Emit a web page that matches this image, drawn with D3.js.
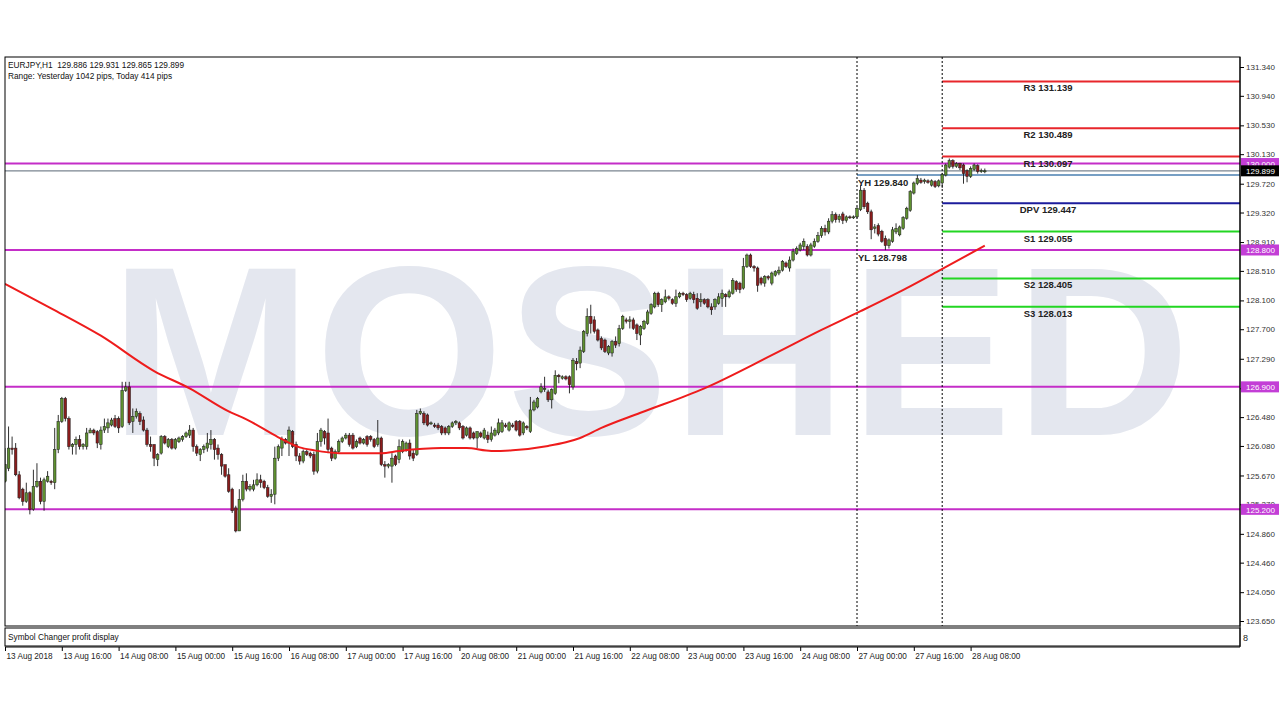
<!DOCTYPE html>
<html><head><meta charset="utf-8">
<script src="https://cdn.jsdelivr.net/npm/d3@7"></script>
<style>body{margin:0;background:#fff}svg{display:block}text{font-family:"Liberation Sans",Arial,sans-serif}</style>
</head><body><svg id="c" width="1280" height="720"></svg>
<script>
// ---- data (EURJPY H1, bar 0 = 13 Aug 2018 00:00) ----
const opens=[125.59,125.77,126.05,126.05,125.68,125.48,125.31,125.43,125.20,125.52,125.59,125.31,125.59,125.59,125.57,126.03,126.42,126.74,126.46,126.07,126.10,126.17,126.07,126.07,126.26,126.30,126.28,126.10,126.30,126.33,126.37,126.46,126.46,126.35,126.85,126.90,126.42,126.49,126.53,126.44,126.30,126.10,126.10,125.89,125.98,126.21,126.07,126.17,126.05,126.14,126.17,126.21,126.23,126.30,126.07,125.96,126.03,126.05,126.10,126.17,126.05,125.96,125.82,125.68,125.48,125.22,124.90,125.34,125.59,125.48,125.48,125.54,125.61,125.59,125.50,125.38,125.41,125.91,126.05,126.17,126.12,126.28,126.10,
125.94,125.87,126.00,125.98,125.96,125.73,126.14,126.28,126.26,126.05,125.91,126.00,126.14,126.19,126.23,126.23,126.07,126.19,126.12,126.21,126.21,126.17,126.10,126.19,125.82,125.80,125.80,125.94,125.89,126.00,126.03,126.12,125.98,125.96,126.53,126.53,126.51,126.40,126.37,126.37,126.35,126.33,126.26,126.35,126.40,126.40,126.35,126.23,126.33,126.26,126.19,126.26,126.19,126.23,126.17,126.23,126.26,126.28,126.37,126.30,126.37,126.42,126.42,126.26,126.35,126.28,126.58,126.62,
126.83,126.86,126.83,126.72,126.81,127.06,127.02,127.04,127.04,126.90,127.25,127.23,127.39,127.64,127.88,127.83,127.69,127.57,127.55,127.37,127.37,127.53,127.50,127.71,127.83,127.81,127.83,127.76,127.62,127.71,127.78,127.92,128.01,128.20,128.04,128.08,128.15,128.11,128.06,128.15,128.20,128.18,128.13,128.18,128.13,128.08,128.11,128.11,128.01,128.01,128.06,128.13,128.18,128.15,128.20,128.36,128.34,128.27,128.57,128.73,128.57,128.55,128.41,128.34,128.43,128.34,128.45,128.48,128.52,128.62,128.55,128.66,128.75,128.80,128.85,128.85,128.73,128.85,128.92,
129.00,129.10,129.05,129.20,129.29,129.22,129.30,129.21,129.26,129.25,129.26,129.36,129.63,129.45,129.33,129.10,129.14,129.06,128.96,128.86,128.92,129.05,129.01,129.10,129.24,129.35,129.59,129.72,129.77,129.75,129.76,129.70,129.75,129.69,129.73,129.84,129.95,130.04,129.96,130.00,129.98,129.90,129.82,129.92,129.97,129.89,129.886];
const highs=[126.05,126.35,126.21,126.12,125.73,125.50,125.57,125.45,125.75,125.84,125.64,125.64,125.73,125.61,126.33,126.51,126.76,126.76,126.49,126.12,126.21,126.23,126.12,126.33,126.33,126.32,126.30,126.35,126.46,126.46,126.47,126.51,126.49,126.97,126.97,126.97,126.60,126.60,126.56,126.49,126.33,126.21,126.10,125.98,126.23,126.23,126.19,126.19,126.19,126.21,126.23,126.28,126.37,126.33,126.10,126.05,126.10,126.26,126.30,126.19,126.10,125.98,125.82,125.77,125.50,125.25,125.48,125.68,125.70,125.55,125.61,125.70,125.68,125.61,125.54,125.48,126.07,126.10,126.21,126.19,126.35,126.30,126.14,
125.98,126.03,126.03,126.00,126.00,126.26,126.33,126.30,126.46,126.07,126.03,126.17,126.21,126.26,126.26,126.26,126.17,126.21,126.19,126.23,126.23,126.19,126.44,126.21,125.87,125.84,125.98,125.96,126.17,126.17,126.14,126.17,126.03,126.58,126.60,126.56,126.53,126.42,126.40,126.40,126.37,126.35,126.37,126.42,126.44,126.42,126.37,126.35,126.35,126.28,126.28,126.28,126.33,126.28,126.35,126.33,126.46,126.44,126.40,126.42,126.40,126.44,126.44,126.42,126.37,126.76,126.72,126.76,
126.95,127.04,126.86,126.88,127.13,127.08,127.06,127.06,127.06,127.30,127.30,127.46,127.69,127.99,128.04,127.88,127.71,127.60,127.57,127.48,127.55,127.60,127.76,127.90,127.86,127.88,127.86,127.78,127.76,127.83,127.97,128.06,128.22,128.22,128.13,128.25,128.17,128.13,128.25,128.22,128.22,128.20,128.22,128.22,128.20,128.20,128.13,128.13,128.06,128.13,128.20,128.25,128.20,128.25,128.41,128.38,128.36,128.69,128.75,128.75,128.59,128.57,128.43,128.45,128.45,128.50,128.52,128.57,128.66,128.64,128.71,128.82,128.85,128.90,128.96,128.88,128.90,128.96,129.05,
129.13,129.15,129.24,129.34,129.32,129.30,129.33,129.28,129.28,129.28,129.40,129.70,129.66,129.47,129.36,129.16,129.17,129.08,129.00,128.96,129.12,129.17,129.14,129.27,129.40,129.63,129.75,129.84,129.80,129.79,129.78,129.78,129.77,129.78,129.87,130.00,130.07,130.06,130.02,130.01,130.00,129.92,129.96,130.00,129.99,129.93,129.931];
const lows=[125.57,125.73,125.96,125.66,125.34,125.25,125.29,125.13,125.18,125.50,125.27,125.18,125.57,125.54,125.48,125.98,126.40,126.42,126.03,125.96,125.96,126.03,126.03,126.03,126.26,126.23,126.05,126.03,126.26,126.26,126.35,126.33,126.26,126.33,126.83,126.37,126.26,126.46,126.37,126.28,126.07,126.00,125.80,125.80,125.96,126.10,126.05,126.03,126.03,126.12,126.14,126.19,126.19,126.00,125.94,125.87,125.98,126.00,126.03,125.89,125.89,125.68,125.64,125.43,125.15,124.88,124.90,125.31,125.45,125.45,125.45,125.52,125.50,125.48,125.36,125.29,125.27,125.87,125.94,126.10,125.94,126.05,125.87,
125.82,125.84,125.94,125.91,125.68,125.70,126.07,126.10,125.98,125.87,125.89,125.98,126.12,126.17,126.07,126.03,126.05,126.10,126.10,126.07,126.14,126.05,126.07,125.80,125.64,125.77,125.57,125.80,125.84,125.98,126.00,125.89,125.87,125.94,126.51,126.37,126.35,126.37,126.33,126.30,126.23,126.23,126.23,126.33,126.37,126.30,126.17,126.21,126.17,126.17,126.05,126.19,126.17,126.12,126.14,126.21,126.23,126.26,126.33,126.28,126.33,126.28,126.21,126.23,126.30,126.26,126.56,126.60,
126.81,126.83,126.69,126.60,126.79,126.95,127.00,126.99,126.81,126.86,127.13,127.16,127.37,127.60,127.64,127.64,127.53,127.41,127.37,127.34,127.32,127.44,127.46,127.69,127.78,127.71,127.69,127.55,127.48,127.69,127.76,127.90,127.99,128.01,127.94,128.06,128.10,128.04,128.01,128.13,128.16,128.08,128.11,128.06,127.97,128.01,128.04,127.99,127.90,127.97,128.04,128.01,128.01,128.13,128.18,128.22,128.20,128.25,128.55,128.55,128.50,128.22,128.31,128.29,128.38,128.31,128.43,128.45,128.50,128.55,128.50,128.64,128.73,128.78,128.80,128.71,128.71,128.83,128.90,
128.97,129.00,129.02,129.17,129.18,129.18,129.16,129.18,129.23,129.23,129.24,129.34,129.37,129.30,128.95,129.03,128.99,128.90,128.798,128.82,128.90,129.02,128.99,129.08,129.22,129.33,129.57,129.70,129.72,129.72,129.72,129.68,129.66,129.67,129.66,129.82,129.93,129.93,129.94,129.91,129.72,129.74,129.80,129.90,129.86,129.87,129.865];
const closes=[125.82,126.05,126.03,125.68,125.36,125.31,125.43,125.20,125.52,125.59,125.31,125.61,125.66,125.57,126.03,126.42,126.74,126.46,126.07,126.10,126.17,126.07,126.10,126.26,126.30,126.26,126.12,126.30,126.35,126.40,126.44,126.35,126.33,126.85,126.90,126.40,126.49,126.56,126.42,126.30,126.10,126.07,125.91,125.96,126.21,126.12,126.17,126.05,126.17,126.19,126.21,126.26,126.30,126.07,125.98,126.03,126.07,126.12,126.17,126.03,125.96,125.80,125.66,125.45,125.18,124.90,125.34,125.59,125.48,125.52,125.54,125.61,125.57,125.50,125.38,125.41,125.91,126.07,126.17,126.12,126.30,126.07,125.94,
125.87,126.00,125.96,125.94,125.73,126.14,126.30,126.19,126.03,125.91,126.00,126.14,126.19,126.23,126.10,126.05,126.14,126.12,126.17,126.10,126.17,126.07,126.19,125.82,125.80,125.82,125.91,125.82,126.07,126.14,126.12,125.94,125.91,126.53,126.56,126.40,126.37,126.40,126.35,126.33,126.26,126.26,126.35,126.40,126.42,126.33,126.19,126.33,126.19,126.19,126.28,126.21,126.30,126.17,126.26,126.30,126.40,126.40,126.35,126.40,126.35,126.30,126.23,126.40,126.33,126.58,126.69,126.74,
126.90,126.88,126.72,126.86,127.06,127.04,127.04,127.01,126.93,127.27,127.22,127.41,127.67,127.88,127.78,127.67,127.55,127.44,127.39,127.46,127.53,127.48,127.71,127.88,127.81,127.83,127.71,127.64,127.74,127.81,127.94,128.04,128.20,128.04,128.11,128.15,128.13,128.06,128.15,128.20,128.18,128.11,128.20,128.11,127.99,128.11,128.06,128.01,127.97,128.11,128.15,128.20,128.15,128.22,128.38,128.25,128.25,128.57,128.73,128.57,128.55,128.31,128.34,128.43,128.41,128.48,128.50,128.52,128.64,128.57,128.66,128.78,128.82,128.87,128.92,128.73,128.87,128.92,129.00,
129.10,129.05,129.20,129.29,129.22,129.27,129.21,129.26,129.25,129.26,129.38,129.63,129.40,129.33,129.08,129.12,129.02,128.92,128.86,128.94,129.08,129.10,129.12,129.25,129.38,129.61,129.73,129.79,129.74,129.77,129.74,129.76,129.68,129.76,129.85,129.98,130.04,129.96,130.00,129.94,129.86,129.82,129.93,129.98,129.89,129.90,129.899];
// moving average, read at selected bars
const maBars=[0,13,27,42,52,63,68,77,83,87,94,106,111,123,130,137,143,153,158,162,168,179,197,216,230,241,254,263,276];
const maVals=[128.33,127.99,127.61,127.12,126.88,126.56,126.45,126.20,126.06,126.02,125.98,125.98,126.01,126.05,126.05,126.01,126.02,126.08,126.13,126.19,126.33,126.54,126.88,127.34,127.69,127.95,128.27,128.51,128.86];
// axis labels
const priceTicks=["131.340","130.940","130.530","130.130","129.720","129.320","128.910","128.510","128.100","127.700","127.290","126.880","126.480","126.080","125.670","125.270","124.860","124.460","124.050","123.650"];
const timeLabels=["13 Aug 2018","13 Aug 16:00","14 Aug 08:00","15 Aug 00:00","15 Aug 16:00","16 Aug 08:00","17 Aug 00:00","17 Aug 16:00","20 Aug 08:00","21 Aug 00:00","21 Aug 16:00","22 Aug 08:00","23 Aug 00:00","23 Aug 16:00","24 Aug 08:00","27 Aug 00:00","27 Aug 16:00","28 Aug 08:00"];
const timeBars=[0,16,32,48,64,80,96,112,128,144,160,176,192,208,224,240,256,272];
// horizontal levels
const levelVals=[130.000,128.800,126.900,125.200];
const pivotNames=["R3","R2","R1","DPV","S1","S2","S3"];
const pivotVals=[131.139,130.489,130.097,129.447,129.055,128.405,128.013];
const pivotColors=["#e8262b","#e8262b","#e8262b","#1c1c9c","#22d622","#22d622","#22d622"];
const dayLineBars=[240,264];
const yHigh=129.840, yLow=128.798, bid=129.899;

// ---- drawing ----
const svg=d3.select('#c');
const L=5,R=1240,T=57,B=626;
const n=closes.length;
const x=d3.scaleLinear().domain([0,276]).range([5,5+3.55*276]);
const y=d3.scaleLinear().domain([123.65,131.34]).range([621,67]);
svg.append('rect').attr('width',1280).attr('height',720).attr('fill','#fff');
svg.append('defs').append('clipPath').attr('id','pc').append('rect').attr('x',L).attr('y',T).attr('width',R-L).attr('height',B-T);

// watermark
svg.append('text').attr('x',110).attr('y',435).attr('font-size',242).attr('font-weight','bold')
  .attr('fill','#e4e7ef').attr('textLength',1080).attr('lengthAdjust','spacing').text('MOSHED');

const g=svg.append('g').attr('clip-path','url(#pc)');
g.append('line').attr('x1',x(240)).attr('x2',R).attr('y1',y(yLow)).attr('y2',y(yLow)).attr('stroke','#4a7fb0').attr('stroke-width',1.5);
g.append('line').attr('x1',x(240)).attr('x2',R).attr('y1',y(yHigh)).attr('y2',y(yHigh)).attr('stroke','#4a7fb0').attr('stroke-width',1.5);
g.append('line').attr('x1',L).attr('x2',R).attr('y1',y(bid)).attr('y2',y(bid)).attr('stroke','#7a8590').attr('stroke-width',1.2);
g.selectAll('.lv').data(levelVals).enter().append('line')
  .attr('x1',L).attr('x2',R).attr('y1',d=>y(d)).attr('y2',d=>y(d)).attr('stroke','#c42ec8').attr('stroke-width',2);
g.selectAll('.pv').data(pivotVals).enter().append('line')
  .attr('x1',x(264)).attr('x2',R).attr('y1',d=>y(d)).attr('y2',d=>y(d))
  .attr('stroke',(d,i)=>pivotColors[i]).attr('stroke-width',2);
g.selectAll('.dl').data(dayLineBars).enter().append('line')
  .attr('x1',d=>x(d)).attr('x2',d=>x(d)).attr('y1',T).attr('y2',B)
  .attr('stroke','#000').attr('stroke-width',1).attr('stroke-dasharray','2,2');

// candles
const idx=d3.range(n);
const cg=g.append('g');
cg.selectAll('.wk').data(idx).enter().append('line')
  .attr('x1',i=>x(i)).attr('x2',i=>x(i)).attr('y1',i=>y(highs[i])).attr('y2',i=>y(lows[i]))
  .attr('stroke','#1a1a1a').attr('stroke-width',0.9);
cg.selectAll('.bd').data(idx).enter().append('rect')
  .attr('x',i=>x(i)-1.3).attr('width',2.6)
  .attr('y',i=>y(Math.max(opens[i],closes[i])))
  .attr('height',i=>Math.max(1,Math.abs(y(opens[i])-y(closes[i]))))
  .attr('fill',i=>closes[i]>=opens[i]?'#5f9130':'#8c1c1c')
  .attr('stroke','#1a1a1a').attr('stroke-width',0.5);

// moving average
const line=d3.line().x(i=>x(maBars[i])).y(i=>y(maVals[i])).curve(d3.curveMonotoneX);
g.append('path').attr('d',line(d3.range(maBars.length))).attr('fill','none').attr('stroke','#ee1c1c').attr('stroke-width',2);

// labels on chart
svg.selectAll('.pl').data(pivotVals).enter().append('text')
  .attr('x',1048).attr('y',d=>y(d)+10).attr('text-anchor','middle').attr('font-size',9.5).attr('font-weight','bold').attr('fill','#222')
  .text((d,i)=>pivotNames[i]+' '+d.toFixed(3));
svg.append('text').attr('x',x(240)+1).attr('y',y(yHigh)+11).attr('font-size',9.5).attr('font-weight','bold').attr('fill','#222').text('YH '+yHigh.toFixed(3));
svg.append('text').attr('x',x(240)+1).attr('y',y(yLow)+11).attr('font-size',9.5).attr('font-weight','bold').attr('fill','#222').text('YL '+yLow.toFixed(3));

// header
const last=n-1;
svg.append('text').attr('x',8).attr('y',68).attr('font-size',8.3).attr('fill','#111').attr('xml:space','preserve')
  .text('EURJPY,H1  '+[opens[last],highs[last],lows[last],closes[last]].map(v=>v.toFixed(3)).join(' '));
svg.append('text').attr('x',8).attr('y',79).attr('font-size',8.3).attr('fill','#111').text('Range: Yesterday 1042 pips, Today 414 pips');

// frames
svg.append('rect').attr('x',L).attr('y',T).attr('width',R-L).attr('height',B-T).attr('fill','none').attr('stroke','#000').attr('stroke-width',1);
svg.append('rect').attr('x',L).attr('y',628).attr('width',R-L).attr('height',18).attr('fill','none').attr('stroke','#000').attr('stroke-width',1);
svg.append('text').attr('x',8).attr('y',640).attr('font-size',8.3).attr('fill','#111').text('Symbol Changer profit display');
svg.append('text').attr('x',1243).attr('y',641).attr('font-size',9).attr('fill','#222').text('8');

// y axis
const ya=svg.append('g').attr('transform',`translate(${R},0)`)
  .call(d3.axisRight(y).tickValues(priceTicks.map(Number)).tickFormat((d,i)=>priceTicks[i]).tickSize(4).tickPadding(2));
ya.select('.domain').remove();
ya.selectAll('text').attr('font-size',8).attr('fill','#333').style('font-family','"Liberation Sans",Arial,sans-serif');
ya.selectAll('line').attr('stroke','#000');

// x axis
const xa=svg.append('g').attr('transform','translate(0,647)')
  .call(d3.axisBottom(x).tickValues(timeBars).tickFormat((d,i)=>timeLabels[i]).tickSize(4).tickPadding(2));
xa.select('.domain').remove();
xa.selectAll('text').attr('text-anchor','start').attr('dx',1).attr('font-size',8.2).attr('fill','#222').style('font-family','"Liberation Sans",Arial,sans-serif');
xa.selectAll('line').attr('stroke','#000');
svg.append('line').attr('x1',L).attr('x2',R).attr('y1',647).attr('y2',647).attr('stroke','#000');
svg.append('line').attr('x1',R).attr('x2',R).attr('y1',T).attr('y2',647).attr('stroke','#000');

// price boxes
const boxes=levelVals.map(v=>({v,fill:'#c33ed6'})).concat([{v:bid,fill:'#000'}]);
const bx=svg.selectAll('.bx').data(boxes).enter().append('g');
bx.append('rect').attr('x',R+1).attr('y',d=>y(d.v)-5.5).attr('width',38).attr('height',11).attr('fill',d=>d.fill);
bx.append('text').attr('x',R+6).attr('y',d=>y(d.v)+3.5).attr('font-size',8).attr('fill','#fff').text(d=>d.v.toFixed(3));
</script></body></html>
